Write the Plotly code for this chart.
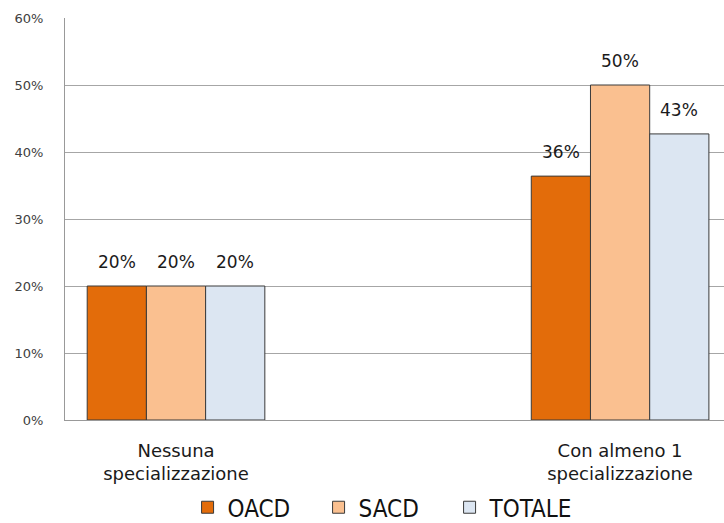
import plotly.graph_objects as go

# Categories (the middle slot is an empty spacer category)
categories = ["Nessuna<br>specializzazione", " ", "Con almeno 1<br>specializzazione"]
series_names = ["OACD", "SACD", "TOTALE"]
oacd = [20.0, None, 36.4]
sacd = [20.0, None, 50.0]
totale = [20.0, None, 42.7]
series_values = [oacd, sacd, totale]
colors = ["#E36C0A", "#FAC090", "#DCE6F2"]
y_ticks = [0, 10, 20, 30, 40, 50, 60]
y_ticktext = [f"{t}%" for t in y_ticks]

W, H = 724, 523
margin = dict(l=65, r=0, t=18, b=103, autoexpand=False)
x_range = [-0.5, 2.468]
bargap = 0.2

fig = go.Figure()
for name, vals, col in zip(series_names, series_values, colors):
    fig.add_trace(go.Bar(
        name=name, x=categories, y=vals,
        marker=dict(color=col, line=dict(color="#3a3a3a", width=1)),
        hoverinfo="skip",
    ))

# Value labels above each bar, offset horizontally by one bar width per series
plot_w = W - margin["l"] - margin["r"]
cat_px = plot_w / (x_range[1] - x_range[0])
bar_px = cat_px * (1 - bargap) / len(series_names)
for i, vals in enumerate(series_values):
    for cat, v in zip(categories, vals):
        if v is None:
            continue
        fig.add_annotation(
            x=cat, y=v, xref="x", yref="y",
            text=f"{v:.0f}%", showarrow=False,
            xshift=(i - 1) * bar_px, yshift=24, yanchor="middle",
            font=dict(family="DejaVu Sans", size=17, color="#1a1a1a"),
        )

fig.update_layout(
    width=W, height=H, margin=margin,
    paper_bgcolor="white", plot_bgcolor="white",
    barmode="group", bargap=bargap, bargroupgap=0,
    showlegend=True,
    legend=dict(
        orientation="h", x=0.186, xanchor="left", y=-0.218, yanchor="middle",
        font=dict(family="DejaVu Sans Condensed, Liberation Sans Narrow, Roboto", size=24, color="#111111"),
        itemwidth=30, entrywidth=86, entrywidthmode="pixels",
        tracegroupgap=0, bgcolor="rgba(0,0,0,0)",
    ),
    xaxis=dict(
        type="category", categoryorder="array", categoryarray=categories,
        range=x_range, showgrid=False, showline=True, linecolor="#999999", linewidth=1,
        ticks="", ticklabelstandoff=14, automargin=False,
        tickfont=dict(family="DejaVu Sans", size=18, color="#1a1a1a"),
    ),
    yaxis=dict(
        range=[0, 60], tickmode="array", tickvals=y_ticks, ticktext=y_ticktext,
        showgrid=True, gridcolor="#a6a6a6", gridwidth=1,
        zeroline=True, zerolinecolor="#999999", zerolinewidth=1,
        showline=True, linecolor="#999999", linewidth=1,
        ticks="", ticklabelstandoff=18, automargin=False,
        tickfont=dict(family="DejaVu Sans", size=13, color="#404040"),
    ),
)

fig.write_html("out.html")
